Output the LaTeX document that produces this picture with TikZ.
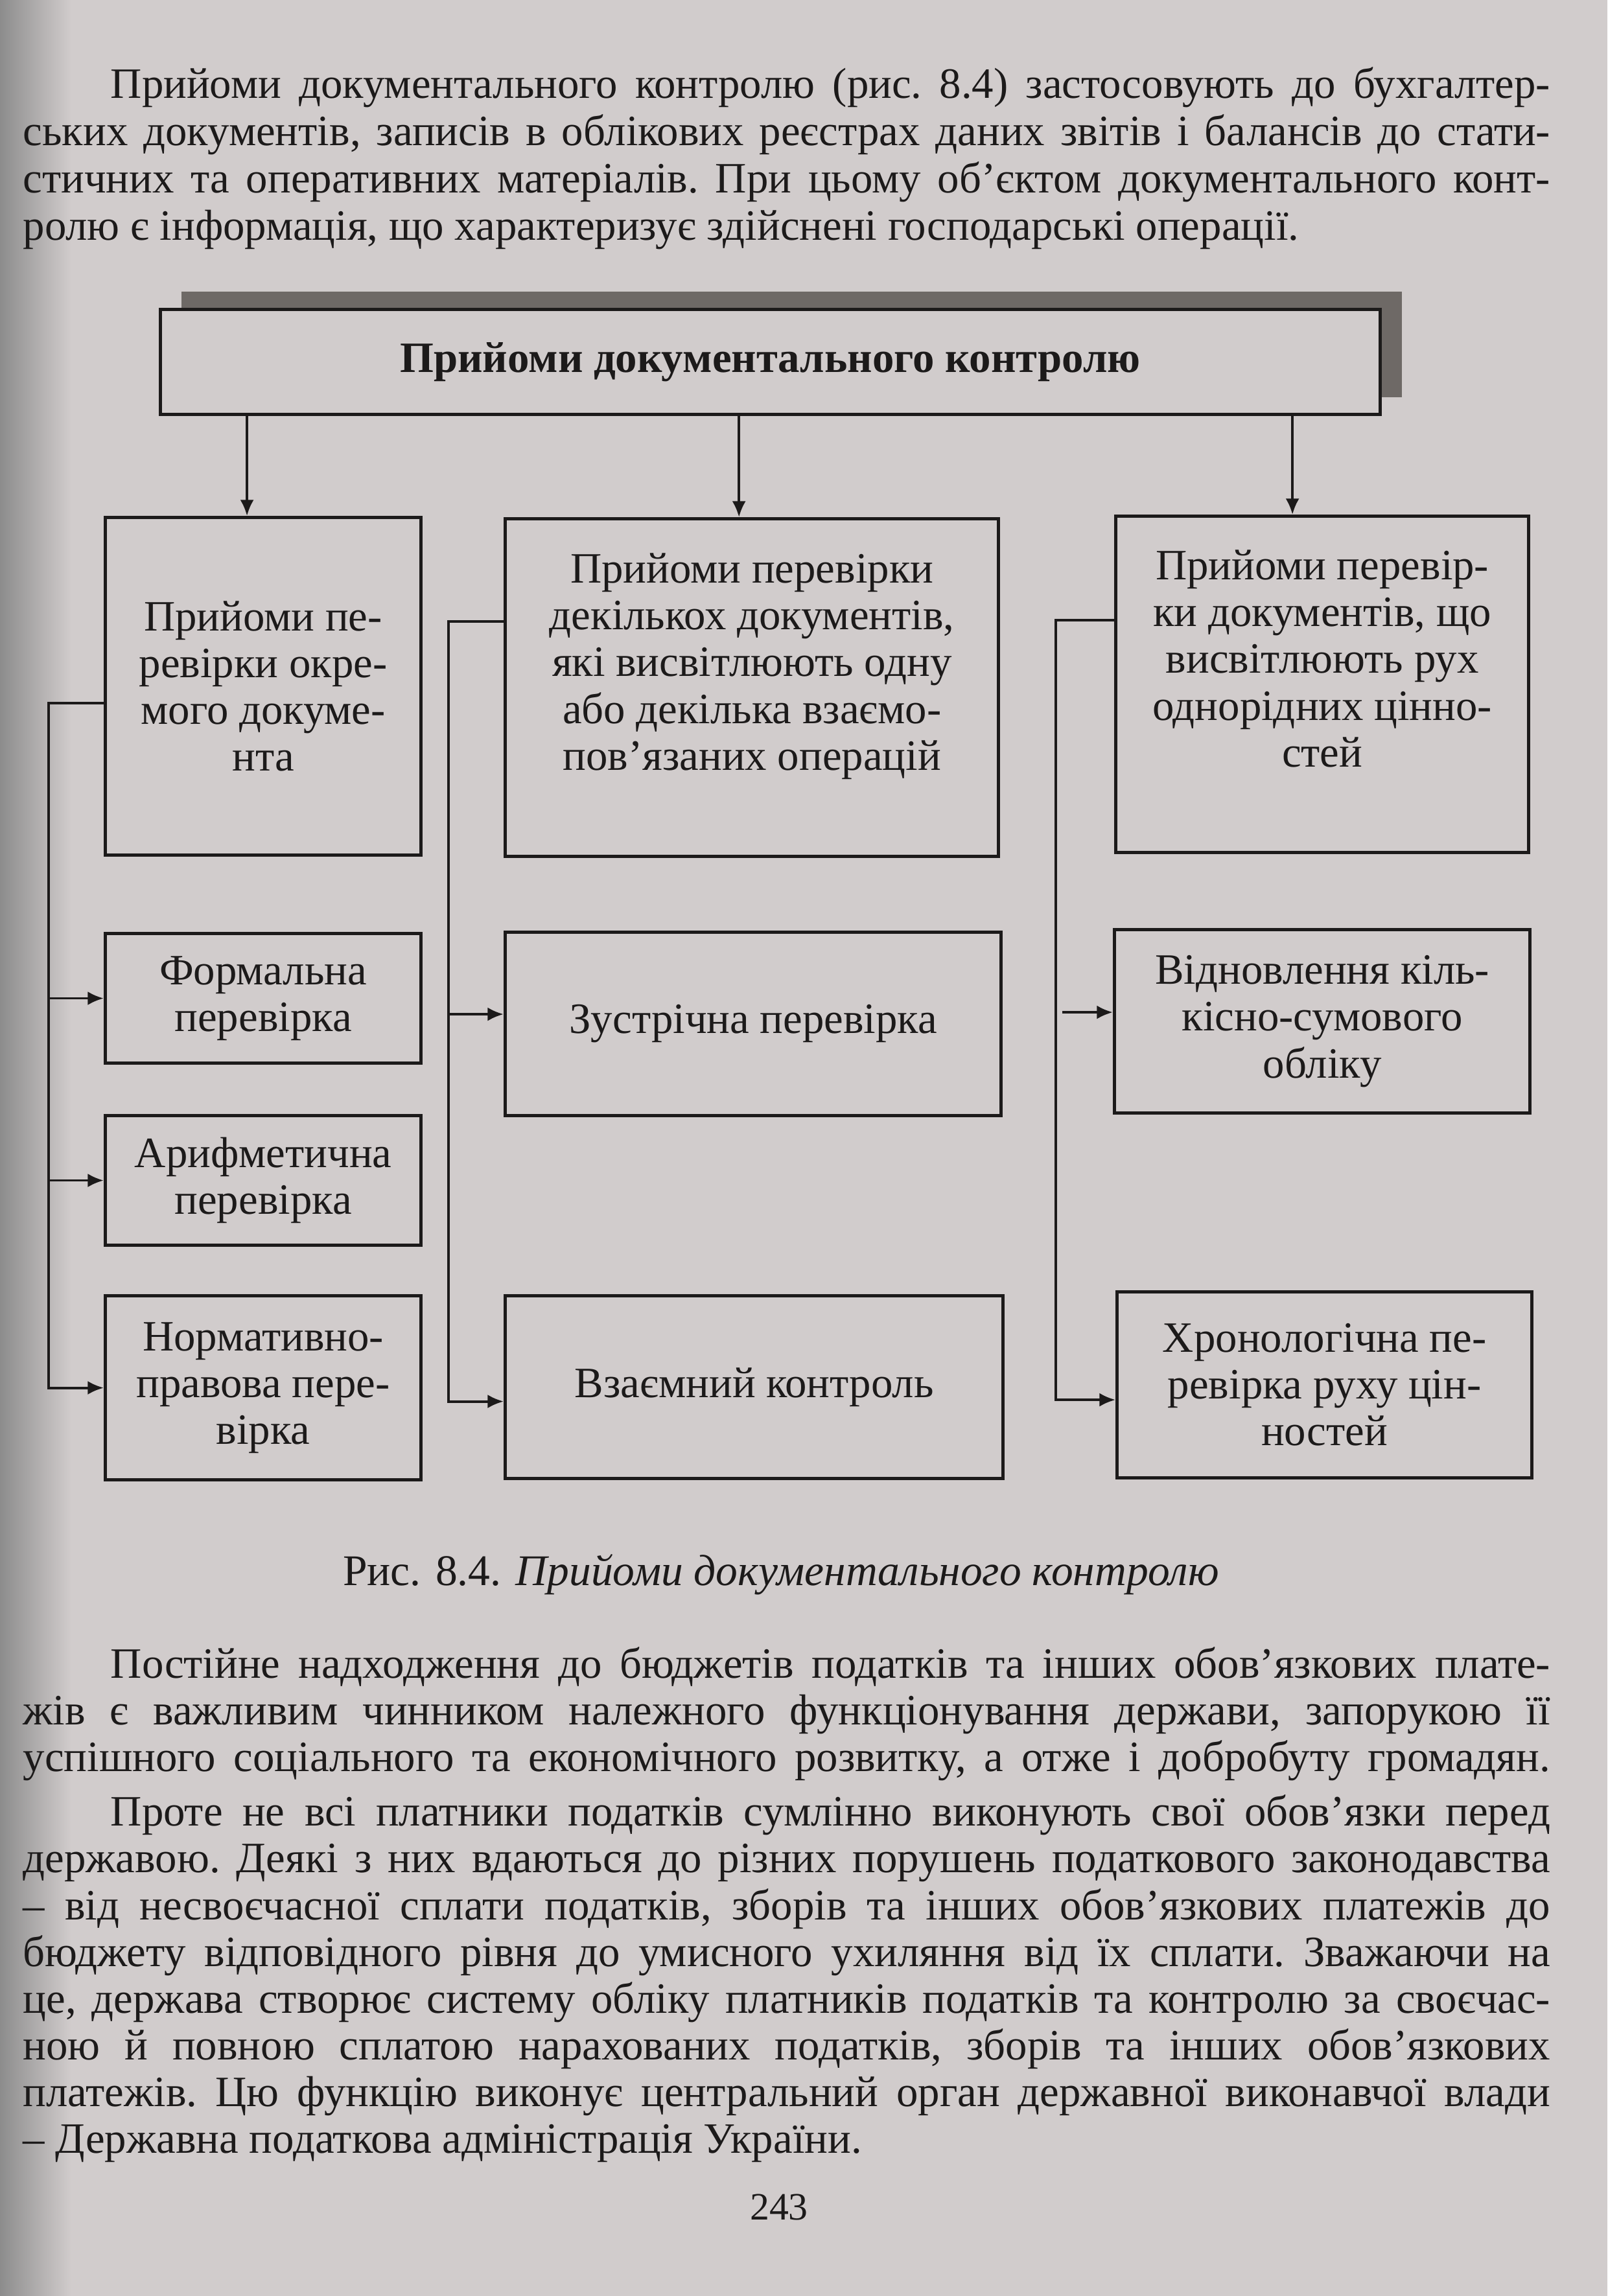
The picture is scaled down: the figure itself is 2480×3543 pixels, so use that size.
\documentclass[tikz,border=0pt]{standalone}
\usepackage{fontspec}
\setmainfont{Liberation Serif}
\usepackage{tikz}
\usetikzlibrary{arrows.meta, shadows}
\definecolor{paper}{HTML}{D1CCCC}
\definecolor{ink}{HTML}{1C1A1A}
\definecolor{hatch}{HTML}{6E6966}
\newcommand{\fullline}[1]{\leavevmode\hbox to 23.55cm{\spaceskip=0.25em plus 1fil minus 0.08em\relax #1}}
\newcommand{\plainspaces}{\spaceskip=0pt\xspaceskip=0pt\frenchspacing}

\begin{document}
\begin{tikzpicture}[x=0.01cm, y=-0.01cm,
    box/.style={draw=ink, line width=1.4pt, fill=paper, align=center, inner sep=2pt,
      text=ink, font=\fontsize{19}{20.5}\selectfont},
    link/.style={draw=ink, line width=1.1pt},
    tip/.style={link, -{Latex[length=7pt, width=6pt]}},
    para/.style={anchor=north west, inner sep=0pt, text width=23.55cm, align=left,
      text=ink, font=\fontsize{19}{20.8}\selectfont}]

  % page
  \fill[paper] (0,0) rectangle (2480,3543);
  \shade[left color=black!45, right color=paper] (0,0) rectangle (110,3543);
  \useasboundingbox (0,0) rectangle (2480,3543);

  \node[para] (textabove) at (35,103) {\plainspaces
    \fullline{\hspace*{1.35cm}Прийоми документального контролю (рис. 8.4) застосовують до бухгалтер-}\\
    \fullline{ських документів, записів в облікових реєстрах даних звітів і балансів до стати-}\\
    \fullline{стичних та оперативних матеріалів. При цьому об’єктом документального конт-}\\
    ролю є інформація, що характеризує здійснені господарські операції.};

  % diagram
  \node[box, font=\bfseries\fontsize{19}{20.5}\selectfont, minimum width=18.81cm,
        minimum height=1.62cm, anchor=north west,
        drop shadow={shadow xshift=0.33cm, shadow yshift=0.27cm, fill=hatch, opacity=1}]
        (main) at (245,475) {Прийоми документального контролю};

  \node[box, minimum width=4.87cm, minimum height=5.21cm, anchor=north west]
        (single) at (160,796) {Прийоми пе-\\ревірки окре-\\мого докуме-\\нта};
  \node[box, minimum width=7.61cm, minimum height=5.21cm, anchor=north west, text depth=0.8cm]
        (several) at (777,798) {Прийоми перевірки\\декількох документів,\\які висвітлюють одну\\або декілька взаємо-\\пов’язаних операцій};
  \node[box, minimum width=6.37cm, minimum height=5.19cm, anchor=north west, text depth=0.8cm]
        (flow) at (1719,794) {Прийоми перевір-\\ки документів, що\\висвітлюють рух\\однорідних цінно-\\стей};

  \node[box, minimum width=4.87cm, minimum height=2cm, anchor=north west]
        (formal) at (160,1438) {Формальна\\перевірка};
  \node[box, minimum width=4.87cm, minimum height=2cm, anchor=north west]
        (arith) at (160,1719) {Арифметична\\перевірка};
  \node[box, minimum width=4.87cm, minimum height=2.84cm, anchor=north west]
        (norm) at (160,1997) {Нормативно-\\правова пере-\\вірка};

  \node[box, minimum width=7.65cm, minimum height=2.83cm, anchor=north west]
        (counter) at (777,1436) {Зустрічна перевірка};
  \node[box, minimum width=7.68cm, minimum height=2.82cm, anchor=north west]
        (mutual) at (777,1997) {Взаємний контроль};

  \node[box, minimum width=6.41cm, minimum height=2.83cm, anchor=north west]
        (restore) at (1717,1432) {Відновлення кіль-\\кісно-сумового\\обліку};
  \node[box, minimum width=6.40cm, minimum height=2.87cm, anchor=north west]
        (chrono) at (1721,1991) {Хронологічна пе-\\ревірка руху цін-\\ностей};

  % arrows from the top box
  \draw[tip] ([xshift=-0.25cm]single.north |- main.south) -- ([xshift=-0.25cm]single.north);
  \draw[tip] ([xshift=-0.2cm]several.north |- main.south) -- ([xshift=-0.2cm]several.north);
  \draw[tip] ([xshift=-0.46cm]flow.north |- main.south) -- ([xshift=-0.46cm]flow.north);

  % side buses
  \coordinate (lbus) at (75,1085);
  \coordinate (mbus) at (692,959);
  \coordinate (rbus) at (1629,957);

  \draw[tip] (single.west |- lbus) -- (lbus) |- (norm.west);
  \draw[tip] (lbus |- formal.west) -- (formal.west);
  \draw[tip] (lbus |- arith.west) -- (arith.west);

  \draw[tip] (several.west |- mbus) -- (mbus) |- ([yshift=-0.22cm]mutual.west);
  \draw[tip] ([yshift=0.15cm]mbus |- counter.west) -- ([yshift=0.15cm]counter.west);

  \draw[tip] (flow.west |- rbus) -- (rbus) |- ([yshift=-0.23cm]chrono.west);
  \draw[tip] ([xshift=0.1cm, yshift=0.14cm]rbus |- restore.west) -- ([yshift=0.14cm]restore.west);

  \node[text=ink, font=\fontsize{19.2}{21}\selectfont] (caption) at (1205,2430)
        {Рис. 8.4. \textit{Прийоми документального контролю}};

  \node[para, font=\fontsize{19}{20.5}\selectfont] (textbelow) at (35,2541) {\plainspaces
    \fullline{\hspace*{1.35cm}Постійне надходження до бюджетів податків та інших обов’язкових плате-}\\
    \fullline{жів є важливим чинником належного функціонування держави, запорукою її}\\
    \fullline{успішного соціального та економічного розвитку, а отже і добробуту громадян.}\\[0.12cm]
    \fullline{\hspace*{1.35cm}Проте не всі платники податків сумлінно виконують свої обов’язки перед}\\
    \fullline{державою. Деякі з них вдаються до різних порушень податкового законодавства}\\
    \fullline{– від несвоєчасної сплати податків, зборів та інших обов’язкових платежів до}\\
    \fullline{бюджету відповідного рівня до умисного ухиляння від їх сплати. Зважаючи на}\\
    \fullline{це, держава створює систему обліку платників податків та контролю за своєчас-}\\
    \fullline{ною й повною сплатою нарахованих податків, зборів та інших обов’язкових}\\
    \fullline{платежів. Цю функцію виконує центральний орган державної виконавчої влади}\\
    – Державна податкова адміністрація України.};

  \node[text=ink, font=\fontsize{17}{20}\selectfont] (pagenum) at (1202,3406) {243};
\end{tikzpicture}
\end{document}
